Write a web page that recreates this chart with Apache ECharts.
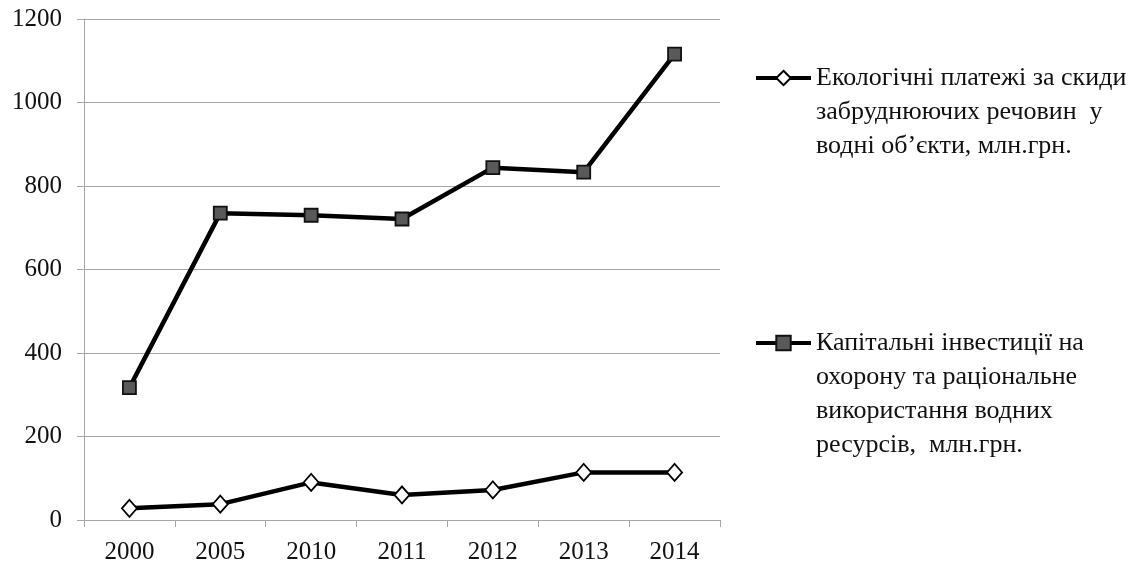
<!DOCTYPE html>
<html>
<head>
<meta charset="utf-8">
<script src="https://cdn.jsdelivr.net/npm/echarts@6/dist/echarts.min.js"></script>
<style>
  html, body { margin: 0; padding: 0; background: #fff; }
  #chart { width: 1146px; height: 566px; }
</style>
</head>
<body>
<div id="chart"></div>
<script>
// Years on the category axis
const years = ['2000', '2005', '2010', '2011', '2012', '2013', '2014'];

// Series names (legend text, line-broken as displayed)
const paymentsName = 'Екологічні платежі за скиди\nзабруднюючих речовин  у\nводні об’єкти, млн.грн.';
const investName = 'Капітальні інвестиції на\nохорону та раціональне\nвикористання водних\nресурсів,  млн.грн.';

// Values, млн.грн.
const payments = [28, 38, 90, 60, 72, 114, 114];
const investments = [317, 735, 730, 721, 844, 833, 1116];

// Value axis range and step
const yMin = 0;
const yMax = 1200;
const yStep = 200;

const FONT = '"Liberation Serif", "Times New Roman", serif';
const TEXT = '#111111';
const GRID = '#a6a6a6';
const LEGEND_LH = 34;

const chart = echarts.init(document.getElementById('chart'), null, { renderer: 'canvas' });

// Legend entries keep the icon beside the first line of a multi-line label:
// blank lines are added above so the first line sits at the block centre.
const legendFor = (name, top) => {
  const extra = name.split('\n').length - 1;
  return {
    data: [name],
    left: 754,
    top: top,
    padding: 0,
    orient: 'vertical',
    itemWidth: 55,
    itemHeight: 18,
    selectedMode: false,
    lineStyle: { width: 4, color: '#000' },
    formatter: (n) => '\n'.repeat(extra) + n,
    textStyle: { fontFamily: FONT, fontSize: 26, color: TEXT, lineHeight: LEGEND_LH }
  };
};

const blockTop = (name, firstLineY) => {
  const lines = 2 * name.split('\n').length - 1;
  return firstLineY - (lines * LEGEND_LH) / 2;
};

chart.setOption({
  animation: false,
  backgroundColor: '#ffffff',
  grid: { left: 84, right: 426, top: 19, bottom: 46, containLabel: false },
  legend: [
    legendFor(paymentsName, blockTop(paymentsName, 78)),
    legendFor(investName, blockTop(investName, 343))
  ],
  xAxis: {
    type: 'category',
    data: years,
    boundaryGap: true,
    axisLine: { lineStyle: { color: GRID, width: 1 } },
    axisTick: { show: true, alignWithLabel: false, length: 7, lineStyle: { color: GRID } },
    axisLabel: { fontFamily: FONT, fontSize: 25, color: TEXT, margin: 20 },
    splitLine: { show: false }
  },
  yAxis: {
    type: 'value',
    min: yMin,
    max: yMax,
    interval: yStep,
    axisLine: { show: true, lineStyle: { color: GRID, width: 1 } },
    axisTick: { show: true, length: 7, lineStyle: { color: GRID } },
    axisLabel: {
      fontFamily: FONT, fontSize: 25, color: TEXT, margin: 22,
      formatter: (v) => String(v)
    },
    splitLine: { show: true, lineStyle: { color: GRID, width: 1 } }
  },
  series: [
    {
      name: paymentsName,
      type: 'line',
      data: payments,
      symbol: 'diamond',
      symbolSize: [15, 17],
      showAllSymbol: true,
      lineStyle: { color: '#000', width: 4.5 },
      itemStyle: { color: '#ffffff', borderColor: '#000', borderWidth: 1.8 },
      z: 3
    },
    {
      name: investName,
      type: 'line',
      data: investments,
      symbol: 'rect',
      symbolSize: 13,
      showAllSymbol: true,
      lineStyle: { color: '#000', width: 4.5 },
      itemStyle: { color: '#595959', borderColor: '#111', borderWidth: 1.8 },
      z: 3
    }
  ]
});
</script>
</body>
</html>
